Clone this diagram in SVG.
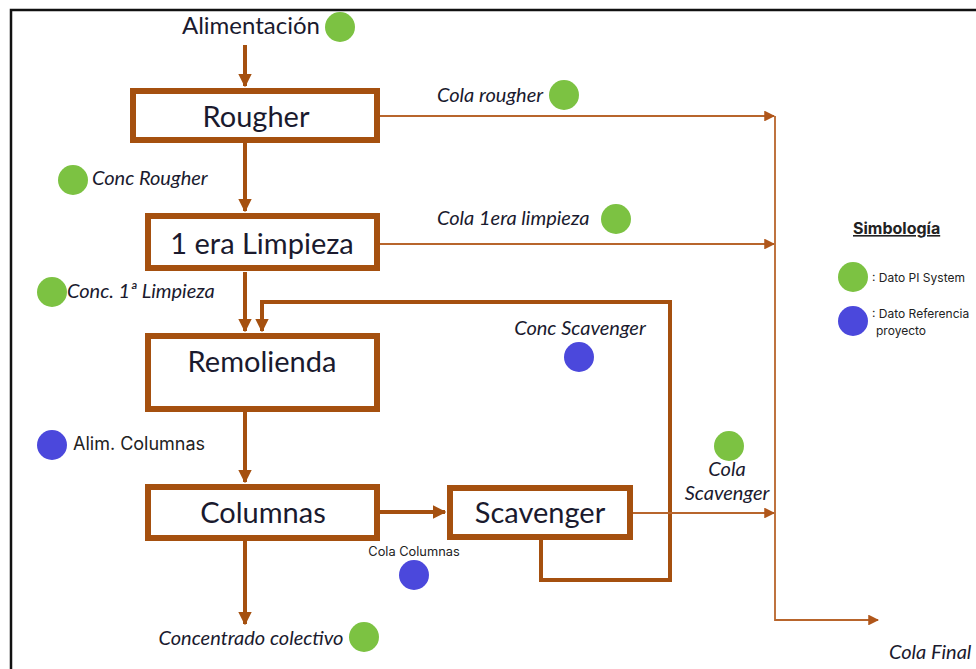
<svg xmlns="http://www.w3.org/2000/svg" width="976" height="669" viewBox="0 0 976 669">
  <defs>
    <marker id="headThick" viewBox="0 0 10 10" refX="9" refY="5" markerWidth="3.4" markerHeight="3.4" markerUnits="strokeWidth" orient="auto">
      <path d="M0,0 L10,5 L0,10 Z" fill="#A5500F"/>
    </marker>
    <marker id="headThin" viewBox="0 0 10 10" refX="9" refY="5" markerWidth="6" markerHeight="6" markerUnits="strokeWidth" orient="auto">
      <path d="M0,0 L10,5 L0,10 Z" fill="#B0561A"/>
    </marker>
  </defs>
  <style>
    .box { fill: #ffffff; stroke: #A5500F; stroke-width: 6; }
    .thick { fill: none; stroke: #A5500F; stroke-width: 4; }
    .thin { fill: none; stroke: #B8652C; stroke-width: 1.8; }
    .name { font-family: Lato, "Open Sans", sans-serif; font-size: 29px; fill: #1a1a2e; text-anchor: middle; }
    .lab { font-family: Lato, "Open Sans", sans-serif; font-size: 20px; font-style: italic; fill: #1a1a2e; }
    .sans { font-family: Inter, "Liberation Sans", sans-serif; fill: #222; }
    .pi { fill: #7CC242; }
    .ref { fill: #4B48DC; }
  </style>

  <rect width="976" height="669" fill="#ffffff"/>
  <!-- outer frame -->
  <path d="M11,669 L11,10 L976,10" fill="none" stroke="#111" stroke-width="2.5"/>

  <!-- connectors -->
  <g id="connectors">
    <path class="thick" d="M245,45 L245,86" marker-end="url(#headThick)"/>
    <path class="thick" d="M245,143 L245,211" marker-end="url(#headThick)"/>
    <path class="thick" d="M245,272 L245,331" marker-end="url(#headThick)"/>
    <path class="thick" d="M245,412 L245,482" marker-end="url(#headThick)"/>
    <path class="thick" d="M245,540 L245,624" marker-end="url(#headThick)"/>
    <path class="thick" d="M380,512 L445,512" marker-end="url(#headThick)"/>
    <!-- scavenger concentrate recycle to regrind -->
    <path class="thick" d="M541,540 L541,580 L670,580 L670,302 L262,302 L262,331" marker-end="url(#headThick)"/>
    <!-- tailings lines -->
    <path class="thin" d="M380,116 L774,116" marker-end="url(#headThin)"/>
    <path class="thin" d="M380,244 L774,244" marker-end="url(#headThin)"/>
    <path class="thin" d="M633,513 L774,513" marker-end="url(#headThin)"/>
    <path class="thin" d="M775,116 L775,620 L878,620" marker-end="url(#headThin)"/>
  </g>

  <g id="rougher">
    <rect class="box" x="133" y="91" width="244" height="49"/>
    <text class="name" x="256" y="127">Rougher</text>
  </g>
  <g id="limpieza1">
    <rect class="box" x="148" y="216" width="229" height="52"/>
    <text class="name" x="262" y="254">1 era Limpieza</text>
  </g>
  <g id="remolienda">
    <rect class="box" x="148" y="336" width="229" height="73"/>
    <text class="name" x="262" y="372">Remolienda</text>
  </g>
  <g id="columnas">
    <rect class="box" x="148" y="487" width="229" height="51"/>
    <text class="name" x="263" y="523">Columnas</text>
  </g>
  <g id="scavenger">
    <rect class="box" x="450" y="488" width="180" height="49"/>
    <text class="name" x="540" y="523">Scavenger</text>
  </g>

  <!-- stream labels and data points -->
  <g id="alimentacion">
    <text class="name" x="251" y="34" style="font-size:24px">Alimentación</text>
    <circle class="pi" cx="340" cy="27" r="15"/>
  </g>
  <g id="cola-rougher">
    <text class="lab" x="437" y="102">Cola rougher</text>
    <circle class="pi" cx="564" cy="95" r="15"/>
  </g>
  <g id="conc-rougher">
    <circle class="pi" cx="73" cy="180" r="15"/>
    <text class="lab" x="92" y="185">Conc Rougher</text>
  </g>
  <g id="cola-limpieza">
    <text class="lab" x="437" y="225">Cola 1era limpieza</text>
    <circle class="pi" cx="616" cy="219" r="15"/>
  </g>
  <g id="conc-limpieza">
    <circle class="pi" cx="52" cy="292" r="15"/>
    <text class="lab" x="67" y="298">Conc. 1ª Limpieza</text>
  </g>
  <g id="conc-scavenger">
    <text class="lab" x="580" y="335" text-anchor="middle">Conc Scavenger</text>
    <circle class="ref" cx="579" cy="357" r="15"/>
  </g>
  <g id="alim-columnas">
    <circle class="ref" cx="52" cy="445" r="15"/>
    <text class="sans" x="73" y="450" style="font-size:18px">Alim. Columnas</text>
  </g>
  <g id="cola-scavenger">
    <circle class="pi" cx="729" cy="446" r="15"/>
    <text class="lab" x="727" y="476" text-anchor="middle">Cola</text>
    <text class="lab" x="727" y="500" text-anchor="middle">Scavenger</text>
  </g>
  <g id="cola-columnas">
    <text class="sans" x="414" y="556" text-anchor="middle" style="font-size:12.8px">Cola Columnas</text>
    <circle class="ref" cx="414" cy="575" r="15"/>
  </g>
  <g id="concentrado">
    <text class="lab" x="251" y="645" text-anchor="middle">Concentrado colectivo</text>
    <circle class="pi" cx="364" cy="637" r="15"/>
  </g>
  <g id="cola-final">
    <text class="lab" x="889" y="659">Cola Final</text>
  </g>

  <!-- legend -->
  <g id="legend">
    <text class="sans" x="853" y="234" style="font-size:16px;font-weight:bold;text-decoration:underline">Simbología</text>
    <circle class="pi" cx="853" cy="277" r="15"/>
    <text class="sans" x="872" y="282" style="font-size:12px">: Dato PI System</text>
    <circle class="ref" cx="853" cy="321" r="15"/>
    <text class="sans" x="872" y="318" style="font-size:12px">: Dato Referencia</text>
    <text class="sans" x="876" y="335" style="font-size:12px">proyecto</text>
  </g>
</svg>
